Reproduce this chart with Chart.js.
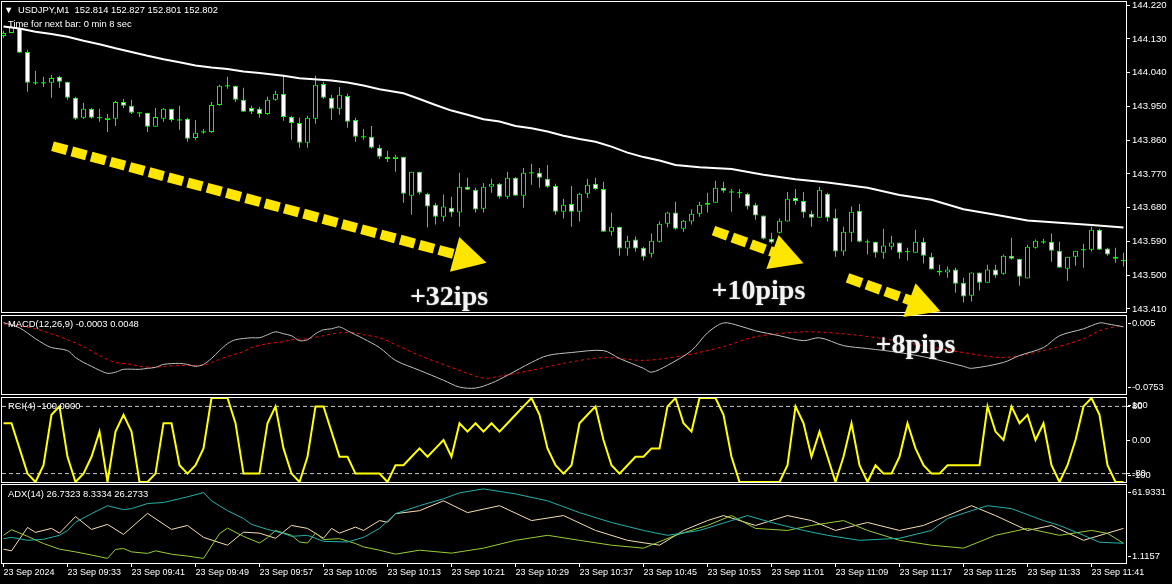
<!DOCTYPE html>
<html lang="en">
<head>
<meta charset="UTF-8">
<title>USDJPY M1</title>
<script src="https://cdn.jsdelivr.net/npm/chart.js@4.4.1/dist/chart.umd.min.js"></script>
<style>
  html, body { margin: 0; padding: 0; background: #000; }
  #wrap { position: relative; width: 1172px; height: 584px; overflow: hidden; background: #000; }
  canvas { position: absolute; left: 0; }
</style>
</head>
<body>
<div id="wrap">
  <canvas id="main" width="1172" height="314" style="top:0"></canvas>
  <canvas id="macd" width="1172" height="82" style="top:314px"></canvas>
  <canvas id="rci" width="1172" height="89" style="top:395px"></canvas>
  <canvas id="adx" width="1172" height="101" style="top:483px"></canvas>
  <canvas id="notes" width="1172" height="584" style="top:0"></canvas>
</div>
<script>
// --- candles, one per minute from 09:25 ---
const opens = [
  144.138,144.146,144.159,144.095,144.013,144.013,144.013,144.029,144.016,143.973,
  143.920,143.944,143.920,143.914,143.917,143.962,143.952,143.933,143.933,143.896,
  143.917,143.944,143.914,143.917,143.866,143.882,143.882,143.954,144.005,144.005,
  143.968,143.946,143.944,143.930,143.968,143.984,143.922,143.906,143.853,143.917,
  144.010,143.973,143.944,143.978,143.914,143.869,143.869,143.840,143.816,143.810,
  143.816,143.712,143.776,143.717,143.688,143.656,143.680,143.667,143.736,143.728,
  143.677,143.736,143.744,143.709,143.760,143.712,143.773,143.773,143.757,143.738,
  143.669,143.690,143.669,143.717,143.744,143.730,143.616,143.629,143.571,143.595,
  143.573,143.557,143.589,143.637,143.667,143.624,143.643,143.664,143.688,143.693,
  143.733,143.722,143.720,143.717,143.688,143.659,143.597,143.613,143.643,143.706,
  143.698,143.664,143.653,143.717,143.653,143.563,143.613,143.672,143.589,143.589,
  143.560,143.576,143.587,143.563,143.560,143.589,143.549,143.512,143.507,143.515,
  143.480,143.445,143.507,143.480,143.515,143.504,143.552,143.544,143.491,143.573,
  143.589,143.589,143.565,143.517,143.549,143.568,143.568,143.621,143.571,143.549,
  143.539
];
const highs = [
  144.151,144.165,144.162,144.101,144.045,144.029,144.034,144.032,144.016,143.976,
  143.960,143.946,143.944,143.930,143.965,143.970,143.968,143.933,143.933,143.946,
  143.946,143.944,143.952,143.920,143.914,143.890,143.962,144.008,144.029,144.005,
  144.000,143.952,143.949,143.976,143.992,144.034,143.925,143.920,143.925,144.032,
  144.016,143.981,144.002,143.984,143.920,143.890,143.898,143.848,143.832,143.821,
  143.816,143.776,143.776,143.720,143.693,143.715,143.709,143.773,143.760,143.733,
  143.746,143.757,143.746,143.776,143.762,143.786,143.797,143.786,143.794,143.744,
  143.704,143.738,143.720,143.757,143.760,143.749,143.667,143.629,143.605,143.603,
  143.576,143.611,143.643,143.669,143.696,143.648,143.675,143.696,143.720,143.752,
  143.749,143.730,143.730,143.720,143.693,143.659,143.613,143.651,143.722,143.730,
  143.722,143.672,143.736,143.720,143.677,143.629,143.683,143.690,143.595,143.589,
  143.624,143.605,143.587,143.573,143.621,143.600,143.560,143.528,143.523,143.520,
  143.493,143.507,143.507,143.528,143.528,143.555,143.600,143.544,143.581,143.595,
  143.597,143.611,143.589,143.549,143.565,143.584,143.629,143.624,143.573,143.573,
  143.560
];
const lows = [
  144.133,144.146,144.093,143.989,144.008,144.002,143.973,144.000,143.968,143.914,
  143.917,143.917,143.909,143.882,143.898,143.946,143.930,143.922,143.882,143.896,
  143.909,143.909,143.888,143.856,143.861,143.877,143.880,143.952,143.997,143.962,
  143.936,143.930,143.920,143.928,143.965,143.912,143.861,143.840,143.840,143.904,
  143.970,143.914,143.928,143.893,143.856,143.861,143.837,143.810,143.802,143.776,
  143.693,143.661,143.715,143.627,143.635,143.643,143.656,143.629,143.728,143.667,
  143.667,143.720,143.704,143.704,143.712,143.680,143.741,143.733,143.733,143.661,
  143.651,143.629,143.643,143.706,143.728,143.616,143.605,143.552,143.552,143.563,
  143.539,143.547,143.587,143.627,143.621,143.616,143.635,143.656,143.667,143.693,
  143.720,143.669,143.706,143.675,143.648,143.595,143.584,143.611,143.643,143.688,
  143.653,143.629,143.653,143.643,143.549,143.552,143.589,143.587,143.555,143.547,
  143.544,143.568,143.544,143.539,143.560,143.531,143.515,143.499,143.493,143.453,
  143.427,143.430,143.459,143.480,143.493,143.501,143.541,143.472,143.491,143.571,
  143.584,143.536,143.520,143.485,143.525,143.520,143.563,143.568,143.552,143.533,
  143.523
];
const closes = [
  144.146,144.162,144.093,144.013,144.013,144.013,144.026,144.016,143.973,143.917,
  143.944,143.920,143.920,143.920,143.962,143.952,143.933,143.933,143.896,143.922,
  143.944,143.914,143.914,143.864,143.880,143.882,143.954,144.005,144.005,143.968,
  143.936,143.936,143.930,143.968,143.984,143.922,143.906,143.853,143.920,144.008,
  143.973,143.944,143.981,143.909,143.869,143.869,143.840,143.816,143.810,143.816,
  143.717,143.776,143.720,143.683,143.656,143.683,143.667,143.736,143.728,143.675,
  143.736,143.744,143.709,143.760,143.712,143.773,143.773,143.760,143.736,143.669,
  143.688,143.669,143.717,143.741,143.730,143.616,143.629,143.571,143.592,143.571,
  143.549,143.592,143.637,143.667,143.624,143.645,143.664,143.688,143.693,143.733,
  143.725,143.722,143.720,143.683,143.659,143.597,143.587,143.645,143.704,143.698,
  143.667,143.653,143.728,143.653,143.563,143.616,143.669,143.589,143.589,143.560,
  143.579,143.587,143.560,143.563,143.589,143.552,143.515,143.507,143.515,143.477,
  143.443,143.507,143.480,143.515,143.499,143.552,143.544,143.496,143.576,143.592,
  143.589,143.565,143.520,143.549,143.565,143.568,143.621,143.568,143.555,143.544,
  143.539
];

// moving average (white line), read at these bars
const maIdx  = [0,2,4,6,8,10,12,14,16,18,20,22,24,26,28,30,32,35,37,41,43,45,47,50,52,54,56,58,60,62,64,66,68,70,72,74,76,78,80,82,84,87,91,95,99,103,108,112,116,120,124,128,132,136,140];
const maVals = [144.163,144.158,144.149,144.143,144.136,144.125,144.116,144.105,144.095,144.085,144.076,144.068,144.059,144.054,144.050,144.043,144.039,144.032,144.025,144.019,144.014,144.006,143.996,143.985,143.970,143.954,143.939,143.928,143.916,143.910,143.898,143.892,143.883,143.872,143.863,143.856,143.843,143.827,143.815,143.806,143.794,143.788,143.783,143.768,143.756,143.747,143.733,143.714,143.701,143.676,143.661,143.646,143.640,143.634,143.627];
const priceTicks = [143.410,143.500,143.590,143.680,143.770,143.860,143.950,144.040,144.130,144.220];

// MACD(12,26,9)
const macdIdx  = [0,2,4,5,6,8,9,10,11,12,13,14,15,17,18,19,20,22,23,24,25,26,27,28,29,31,32,33,34,35,36,37,38,39,40,41,42,43,45,47,49,52,55,57,59,61,63,66,68,71,75,77,80,81,83,86,88,90,92,94,97,100,102,105,108,112,116,120,121,125,127,130,132,135,137,138,140];
const macdVals = [-0.0018,-0.0072,-0.0184,-0.0235,-0.0275,-0.0306,-0.0377,-0.0428,-0.0468,-0.0509,-0.0540,-0.0529,-0.0499,-0.0499,-0.0489,-0.0479,-0.0448,-0.0438,-0.0448,-0.0468,-0.0448,-0.0387,-0.0306,-0.0235,-0.0194,-0.0174,-0.0174,-0.0143,-0.0113,-0.0133,-0.0153,-0.0204,-0.0194,-0.0133,-0.0092,-0.0082,-0.0062,-0.0102,-0.0184,-0.0275,-0.0407,-0.0509,-0.0611,-0.0682,-0.0692,-0.0641,-0.0560,-0.0428,-0.0357,-0.0326,-0.0306,-0.0387,-0.0489,-0.0529,-0.0458,-0.0306,-0.0123,-0.0021,-0.0052,-0.0102,-0.0153,-0.0204,-0.0174,-0.0255,-0.0285,-0.0326,-0.0387,-0.0468,-0.0489,-0.0428,-0.0357,-0.0275,-0.0153,-0.0082,-0.0021,-0.0031,-0.0062];
const signalIdx  = [0,2,4,6,8,10,12,14,16,17,19,20,23,25,26,28,30,31,33,35,36,38,40,42,44,45,47,49,52,56,60,62,66,70,75,80,85,90,94,100,105,110,115,120,125,130,135,137,140];
const signalVals = [-0.0031,-0.0052,-0.0082,-0.0133,-0.0194,-0.0265,-0.0357,-0.0428,-0.0448,-0.0468,-0.0479,-0.0468,-0.0458,-0.0458,-0.0428,-0.0367,-0.0316,-0.0275,-0.0235,-0.0214,-0.0194,-0.0184,-0.0153,-0.0123,-0.0123,-0.0143,-0.0174,-0.0245,-0.0357,-0.0479,-0.0590,-0.0570,-0.0509,-0.0438,-0.0377,-0.0407,-0.0357,-0.0265,-0.0163,-0.0113,-0.0133,-0.0184,-0.0255,-0.0326,-0.0377,-0.0306,-0.0184,-0.0102,-0.0041];

// RCI(4), one value per bar
const rciVals = [
   40, 40,-20,-80,-100,-60, 60, 80,-40,-100,
  -80,-40, 20,-100, 20, 60, 20,-100,-100,-80,
   40, 40,-60,-80,-60,-20,100,100,100, 40,
  -80,-80,-80, 40, 80,-20,-80,-100,-40, 80,
   80, 20,-40,-40,-80,-80,-80,-80,-100,-60,
  -60,-40,-20,-40,-20,  0,-40, 40, 20, 40,
   20, 40, 20, 40, 60, 80,100, 60,-20,-60,
  -80,-60, 40, 60, 80,  0,-60,-80,-60,-40,
  -40,-20,-20, 80,100, 40, 20,100,100,100,
   60,-40,-100,-100,-100,-100,-100,-100,-60, 80,
   40,-40, 20,-40,-100,-40, 40,-60,-100,-60,
  -80,-80,-40, 40,-20,-60,-80,-80,-60,-60,
  -60,-60,-60, 80, 20,  0, 80, 40, 60,  0,
   40,-60,-100,-60,  0, 80,100, 60,-60,-100,
  -100
];
const rciLevels = [80, -80];

// ADX(14): main, +DI, -DI
const adxIdx  = [0,1,3,5,7,8,9,11,13,15,16,18,20,23,25,26,28,30,31,33,35,36,38,40,43,45,47,49,52,55,57,60,64,68,72,76,80,83,87,91,93,96,100,103,107,112,116,118,121,123,126,130,132,135,137,140];
const adxVals = [20.1,21.1,18.8,19.6,22.7,26.5,32.9,39.6,45.8,42.7,43.5,47.5,48.3,52.7,56.0,49.6,41.9,35.8,31.2,27.3,24.2,21.9,22.7,18.0,17.5,21.1,28.1,39.6,45.8,51.2,55.8,58.9,55.0,49.6,40.4,32.7,26.5,22.7,26.5,34.2,38.1,32.7,26.5,22.7,18.8,20.4,26.5,35.8,41.9,45.8,43.5,34.2,30.4,22.7,17.3,16.5];
const pdiIdx  = [0,1,3,5,7,9,11,13,14,15,16,18,19,21,23,25,27,28,30,32,33,34,36,37,38,39,40,42,44,45,47,49,52,56,60,64,68,72,76,80,84,88,91,94,98,101,105,108,112,116,120,124,128,132,136,138,140];
const pdiVals = [22.7,27.1,21.9,16.3,11.9,9.8,7.3,4.7,11.7,12.4,9.8,8.6,10.6,8.0,6.5,4.7,24.0,28.3,21.9,16.7,20.9,26.5,22.7,17.5,16.7,24.4,19.4,20.1,16.3,13.7,11.1,8.0,11.1,8.8,12.7,18.8,22.7,18.8,15.0,12.7,22.7,30.4,38.1,28.1,26.5,30.4,34.2,26.5,18.8,15.0,12.7,22.7,28.1,22.7,26.5,24.2,16.5];
const mdiIdx  = [0,1,3,4,6,7,9,11,13,15,18,21,23,25,28,30,32,34,36,38,40,41,42,44,45,47,48,49,52,55,58,62,66,70,74,78,82,85,88,90,94,98,101,104,108,112,115,118,121,124,128,131,135,138,140];
const mdiVals = [11.9,10.6,28.8,25.0,28.1,24.4,37.3,27.3,31.2,23.4,39.8,27.3,30.4,21.1,15.0,25.2,24.4,20.4,30.4,28.1,20.4,28.1,24.4,29.1,26.5,34.2,32.9,39.6,41.9,49.6,40.4,45.8,34.2,38.1,26.5,18.8,15.0,26.5,34.2,38.1,30.4,38.1,34.2,26.5,32.7,26.5,30.4,38.1,45.8,38.1,26.5,30.4,18.8,24.4,28.1];

// time axis
const timeTickIdx = [0,8,16,24,32,40,48,56,64,72,80,88,96,104,112,120,128,136];
const timeTickLabels = ['23 Sep 2024','23 Sep 09:33','23 Sep 09:41','23 Sep 09:49','23 Sep 09:57','23 Sep 10:05','23 Sep 10:13','23 Sep 10:21','23 Sep 10:29','23 Sep 10:37','23 Sep 10:45','23 Sep 10:53','23 Sep 11:01','23 Sep 11:09','23 Sep 11:17','23 Sep 11:25','23 Sep 11:33','23 Sep 11:41'];

// arrows and captions, in bar index / price
const arrows = [
  { from: [6.125, 143.844], to: [60.375, 143.533] },
  { from: [88.75, 143.619], to: [100.0, 143.532] },
  { from: [105.5, 143.493], to: [117.125, 143.404] }
];
const captions = [
  { text: '+32ips',  at: [50.8, 143.421] },
  { text: '+10pips', at: [88.5, 143.437] },
  { text: '+8pips',  at: [109.0, 143.294] }
];

const FONT = '"Liberation Sans", "DejaVu Sans", Arial, sans-serif';
const GREEN = '#00ff00';
const YELLOW = '#ffe600';
const xMin = -0.1875, xMax = 140.3125;

Chart.defaults.font.family = FONT;
Chart.defaults.font.size = 9;
Chart.defaults.color = '#ffffff';

const pts = (idx, vals) => idx.map((x, k) => ({ x, y: vals[k] }));

// keep the plot box where MT4 has it: no room reserved for edge labels
const fixY = s => { s.width = 46; s.paddingTop = 0; s.paddingBottom = 0; };

// white frame, panel captions and MT4 style edge labels
const frame = {
  id: 'frame',
  afterDraw(chart, args, opts) {
    const { ctx, chartArea: a } = chart;
    ctx.save();
    ctx.strokeStyle = '#ffffff';
    ctx.lineWidth = 1;
    ctx.strokeRect(a.left - 0.5, a.top - 0.5, a.right - a.left + 1, a.bottom - a.top + 1);
    ctx.font = '9.4px ' + FONT;
    ctx.textBaseline = 'middle';
    ctx.fillStyle = '#ffffff';
    (opts.texts || []).forEach(t => ctx.fillText(t.text, t.x, t.y));
    (opts.edges || []).forEach(e => {
      const y = e.top ? a.top + 7 : a.bottom - 7;
      ctx.fillRect(a.right + 2, Math.round(y), 3, 1);
      ctx.fillText(e.text, a.right + 6, y);
    });
    ctx.restore();
  }
};

const baseOpts = {
  responsive: false,
  animation: false,
  events: [],
  devicePixelRatio: 1
};

function hiddenX() {
  return { type: 'linear', min: xMin, max: xMax, offset: false, display: false };
}

// main price chart
const mainChart = new Chart(document.getElementById('main'), {
  type: 'bar',
  data: {
    datasets: [
      {
        type: 'line', data: pts(maIdx, maVals), borderColor: '#ffffff', borderWidth: 2,
        pointRadius: 0, tension: 0, order: 0
      },
      {
        data: opens.map((o, i) => ({ x: i, y: [o, closes[i]] })).filter(p => p.y[0] !== p.y[1]),
        backgroundColor: c => (c.raw.y[1] < c.raw.y[0] ? '#ffffff' : '#000000'),
        borderColor: GREEN, borderWidth: 1, borderSkipped: false,
        barThickness: 5, inflateAmount: 0, grouped: false, order: 1
      },
      {
        type: 'line', showLine: false,
        data: opens.map((o, i) => ({ x: i, y: o })).filter(p => p.y === closes[p.x]),
        pointStyle: 'line', pointRadius: 2.5, pointBorderColor: GREEN, pointBorderWidth: 1, order: 1
      },
      {
        data: lows.map((l, i) => ({ x: i, y: [l, highs[i]] })),
        backgroundColor: GREEN, borderWidth: 0,
        barThickness: 1, inflateAmount: 0, grouped: false, order: 2
      }
    ]
  },
  options: {
    ...baseOpts,
    layout: { autoPadding: false, padding: { left: 2, top: 2, bottom: 2, right: 0 } },
    scales: {
      x: hiddenX(),
      y: {
        position: 'right', min: 143.402, max: 144.2285,
        afterBuildTicks: s => { s.ticks = priceTicks.map(v => ({ value: v })); },
        afterFit: fixY,
        ticks: { padding: 2, color: '#ffffff', autoSkip: false, font: { size: 9.6 },
                 callback: v => Number(v).toFixed(3) },
        grid: { drawOnChartArea: false, tickLength: 4, tickColor: '#ffffff' },
        border: { display: false }
      }
    },
    plugins: {
      legend: { display: false }, tooltip: { enabled: false },
      frame: {
        texts: [
          { text: '\u25BC', x: 4, y: 10 },
          { text: 'USDJPY,M1  152.814 152.827 152.801 152.802', x: 18, y: 10 },
          { text: 'Time for next bar: 0 min 8 sec', x: 8, y: 24 }
        ]
      }
    }
  },
  plugins: [frame]
});

// MACD panel
new Chart(document.getElementById('macd'), {
  type: 'line',
  data: {
    datasets: [
      { data: pts(macdIdx, macdVals), borderColor: '#c0c0c0', borderWidth: 1, pointRadius: 0, tension: 0.3 },
      { data: pts(signalIdx, signalVals), borderColor: '#ff0000', borderWidth: 1, borderDash: [3, 3], pointRadius: 0, tension: 0.3 }
    ]
  },
  options: {
    ...baseOpts,
    layout: { autoPadding: false, padding: { left: 2, top: 2, bottom: 2, right: 46 } },
    scales: { x: hiddenX(), y: { min: -0.0753, max: 0.005, display: false } },
    plugins: {
      legend: { display: false }, tooltip: { enabled: false },
      frame: {
        texts: [{ text: 'MACD(12,26,9) -0.0003 0.0048', x: 8, y: 10 }],
        edges: [{ text: '0.005', top: true }, { text: '-0.0753', top: false }]
      }
    }
  },
  plugins: [frame]
});

// RCI panel
new Chart(document.getElementById('rci'), {
  type: 'line',
  data: {
    datasets: [
      { data: rciVals.map((v, i) => ({ x: i, y: v })), borderColor: '#ffff00', borderWidth: 2, pointRadius: 0, tension: 0 },
      ...rciLevels.map(l => ({
        data: [{ x: xMin, y: l }, { x: xMax, y: l }], borderColor: '#c8c8c8', borderWidth: 1,
        borderDash: [4, 3], pointRadius: 0
      }))
    ]
  },
  options: {
    ...baseOpts,
    layout: { autoPadding: false, padding: { left: 2, top: 3, bottom: 2, right: 0 } },
    scales: {
      x: hiddenX(),
      y: {
        position: 'right', min: -100, max: 100,
        afterBuildTicks: s => { s.ticks = [80, 0, -80].map(v => ({ value: v })); },
        afterFit: fixY,
        ticks: { padding: 2, color: '#ffffff', font: { size: 9.6 },
                 callback: v => (v === 0 ? '0.00' : String(v)) },
        grid: { drawOnChartArea: false, tickLength: 4, tickColor: '#ffffff' },
        border: { display: false }
      }
    },
    plugins: {
      legend: { display: false }, tooltip: { enabled: false },
      frame: {
        texts: [{ text: 'RCI(4) -100.0000', x: 8, y: 11 }],
        edges: [{ text: '100', top: true }, { text: '-100', top: false }]
      }
    }
  },
  plugins: [frame]
});

// ADX panel with the time axis
new Chart(document.getElementById('adx'), {
  type: 'line',
  data: {
    datasets: [
      { data: pts(adxIdx, adxVals), borderColor: '#20b2aa', borderWidth: 1, pointRadius: 0, tension: 0 },
      { data: pts(pdiIdx, pdiVals), borderColor: '#9acd32', borderWidth: 1, pointRadius: 0, tension: 0 },
      { data: pts(mdiIdx, mdiVals), borderColor: '#f5deb3', borderWidth: 1, pointRadius: 0, tension: 0 }
    ]
  },
  options: {
    ...baseOpts,
    layout: { autoPadding: false, padding: { left: 2, top: 2, bottom: 0, right: 46 } },
    scales: {
      x: {
        type: 'linear', min: xMin, max: xMax, offset: false, position: 'bottom',
        afterBuildTicks: s => { s.ticks = timeTickIdx.map(v => ({ value: v })); },
        afterFit: s => { s.height = 21; s.paddingLeft = 0; s.paddingRight = 0; },
        ticks: { align: 'start', maxRotation: 0, autoSkip: false, padding: 0, color: '#ffffff',
                 callback: (v, k) => timeTickLabels[k] },
        grid: { drawOnChartArea: false, tickLength: 4, tickColor: '#ffffff' },
        border: { display: false }
      },
      y: { min: 1.1157, max: 61.9331, display: false }
    },
    plugins: {
      legend: { display: false }, tooltip: { enabled: false },
      frame: {
        texts: [{ text: 'ADX(14) 26.7323 8.3334 26.2733', x: 8, y: 11 }],
        edges: [{ text: '61.9331', top: true }, { text: '1.1157', top: false }]
      }
    }
  },
  plugins: [frame]
});

// annotations on top of everything, placed through the price chart scales
(function drawNotes() {
  const ctx = document.getElementById('notes').getContext('2d');
  const sx = mainChart.scales.x, sy = mainChart.scales.y;
  const headLen = 33, headHalf = 18;
  arrows.forEach(a => {
    const x0 = sx.getPixelForValue(a.from[0]), y0 = sy.getPixelForValue(a.from[1]);
    const x1 = sx.getPixelForValue(a.to[0]), y1 = sy.getPixelForValue(a.to[1]);
    const ang = Math.atan2(y1 - y0, x1 - x0);
    const cs = Math.cos(ang), sn = Math.sin(ang);
    const bx = x1 - cs * headLen, by = y1 - sn * headLen;
    ctx.save();
    ctx.strokeStyle = YELLOW;
    ctx.fillStyle = YELLOW;
    ctx.lineWidth = 10;
    ctx.setLineDash([15, 5]);
    ctx.beginPath();
    ctx.moveTo(x0, y0);
    ctx.lineTo(bx + cs * 2, by + sn * 2);
    ctx.stroke();
    ctx.setLineDash([]);
    ctx.beginPath();
    ctx.moveTo(x1, y1);
    ctx.lineTo(bx + sn * headHalf, by - cs * headHalf);
    ctx.lineTo(bx - sn * headHalf, by + cs * headHalf);
    ctx.closePath();
    ctx.fill();
    ctx.restore();
  });
  ctx.save();
  ctx.font = 'bold 28px "Liberation Serif", "DejaVu Serif", serif';
  ctx.textBaseline = 'alphabetic';
  ctx.fillStyle = '#f4f4f4';
  ctx.shadowColor = 'rgba(120,120,120,0.9)';
  ctx.shadowBlur = 2;
  captions.forEach(c => {
    ctx.fillText(c.text, sx.getPixelForValue(c.at[0]), sy.getPixelForValue(c.at[1]));
  });
  ctx.restore();
})();
</script>
</body>
</html>
